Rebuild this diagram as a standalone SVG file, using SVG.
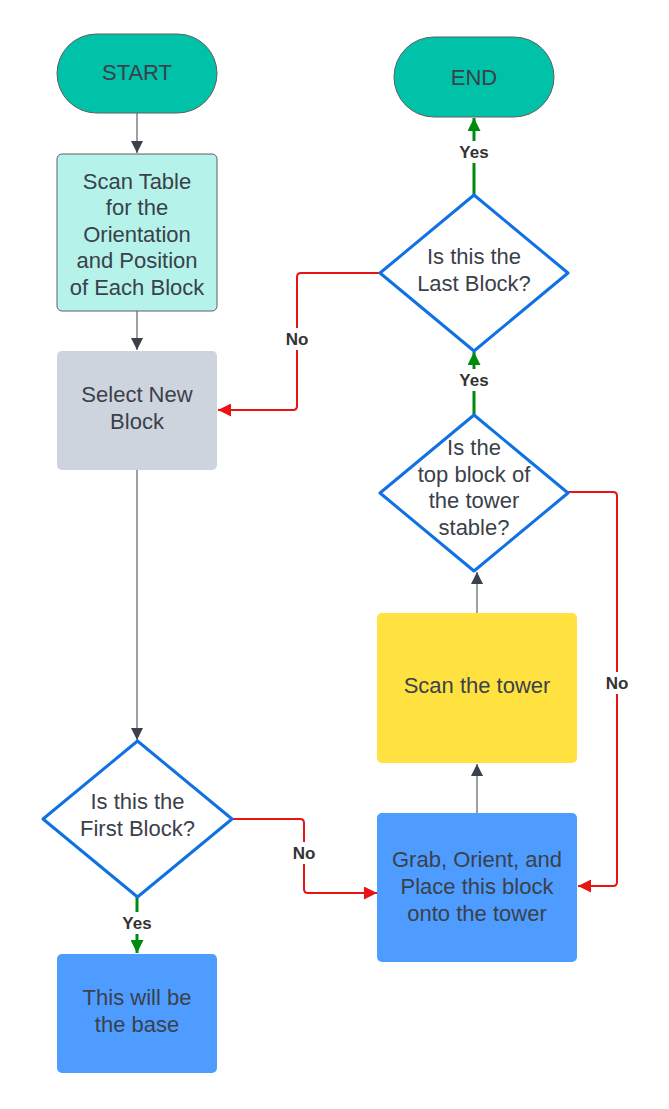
<svg xmlns="http://www.w3.org/2000/svg" width="669" height="1109" viewBox="0 0 669 1109">
<defs>
<style>
.t{font-family:"Liberation Sans",Arial,sans-serif;font-size:22px;fill:#3a414a;text-anchor:middle}
.lb{font-family:"Liberation Sans",Arial,sans-serif;font-size:17px;font-weight:bold;fill:#333333;text-anchor:middle}
.term{fill:#00c2a8;stroke:#5e5e5e;stroke-width:1}
.dia{fill:#ffffff;stroke:#1071e5;stroke-width:3;stroke-linejoin:round}
.dk{fill:none;stroke:#3a414a;stroke-width:1}
.rd{fill:none;stroke:#e81313;stroke-width:2}
.gr{fill:none;stroke:#008a0e;stroke-width:3}
.bg{fill:#ffffff}
</style>
<marker id="ad" viewBox="0 0 10 10" refX="10" refY="5" markerWidth="12" markerHeight="12" markerUnits="userSpaceOnUse" orient="auto"><path d="M0,0 L10,5 L0,10 z" fill="#3a414a"/></marker>
<marker id="ar" viewBox="0 0 10 10" refX="10" refY="5" markerWidth="13" markerHeight="13" markerUnits="userSpaceOnUse" orient="auto"><path d="M0,0 L10,5 L0,10 z" fill="#e81313"/></marker>
<marker id="ag" viewBox="0 0 10 10" refX="10" refY="5" markerWidth="13" markerHeight="13" markerUnits="userSpaceOnUse" orient="auto"><path d="M0,0 L10,5 L0,10 z" fill="#008a0e"/></marker>
</defs>
<rect width="669" height="1109" fill="#ffffff"/>

<g id="connectors">
<path class="dk" d="M137,113 V153" marker-end="url(#ad)"/>
<path class="dk" d="M137,311 V350" marker-end="url(#ad)"/>
<path class="dk" d="M137,470 V740" marker-end="url(#ad)"/>
<path class="dk" d="M477,813 V764" marker-end="url(#ad)"/>
<path class="dk" d="M477,613 V572" marker-end="url(#ad)"/>
<path class="gr" d="M137,897 V953" marker-end="url(#ag)"/>
<path class="gr" d="M474,415 V352" marker-end="url(#ag)"/>
<path class="gr" d="M474,195 V118" marker-end="url(#ag)"/>
<path class="rd" d="M232,819 H300 Q304,819 304,823 V889 Q304,893 308,893 H377" marker-end="url(#ar)"/>
<path class="rd" d="M379,273 H301 Q297,273 297,277 V406 Q297,410 293,410 H218" marker-end="url(#ar)"/>
<path class="rd" d="M568,492 H613 Q617,492 617,496 V882 Q617,886 613,886 H578" marker-end="url(#ar)"/>
<rect class="bg" x="119" y="912" width="36" height="22"/>
<text class="lb" x="137" y="929">Yes</text>
<rect class="bg" x="456" y="369" width="36" height="22"/>
<text class="lb" x="474" y="386">Yes</text>
<rect class="bg" x="456" y="141" width="36" height="22"/>
<text class="lb" x="474" y="158">Yes</text>
<rect class="bg" x="289" y="842" width="30" height="22"/>
<text class="lb" x="304" y="859">No</text>
<rect class="bg" x="282" y="328" width="30" height="22"/>
<text class="lb" x="297" y="345">No</text>
<rect class="bg" x="602" y="672" width="30" height="22"/>
<text class="lb" x="617" y="689">No</text>
</g>

<g id="start">
<rect class="term" x="57" y="34" width="160" height="79" rx="39.5"/>
<text class="t" x="137" y="80">START</text>
</g>
<g id="scan-table">
<rect x="57" y="154" width="160" height="157" rx="5" fill="#b5f3ea" stroke="#5e5e5e" stroke-width="1"/>
<text class="t" x="137" y="189">Scan Table</text>
<text class="t" x="137" y="215">for the</text>
<text class="t" x="137" y="242">Orientation</text>
<text class="t" x="137" y="268">and Position</text>
<text class="t" x="137" y="295">of Each Block</text>
</g>
<g id="select-new-block">
<rect x="57" y="351" width="160" height="119" rx="5" fill="#ced4dd"/>
<text class="t" x="137" y="402">Select New</text>
<text class="t" x="137" y="429">Block</text>
</g>
<g id="first-block">
<path class="dia" d="M137.5,741 L232,819 L137.5,897 L43,819 Z"/>
<text class="t" x="137.5" y="809">Is this the</text>
<text class="t" x="137.5" y="836">First Block?</text>
</g>
<g id="base">
<rect x="57" y="954" width="160" height="119" rx="5" fill="#4e9cff"/>
<text class="t" x="137" y="1005">This will be</text>
<text class="t" x="137" y="1032">the base</text>
</g>
<g id="grab">
<rect x="377" y="813" width="200" height="149" rx="5" fill="#4e9cff"/>
<text class="t" x="477" y="867">Grab, Orient, and</text>
<text class="t" x="477" y="894">Place this block</text>
<text class="t" x="477" y="921">onto the tower</text>
</g>
<g id="scan-tower">
<rect x="377" y="613" width="200" height="150" rx="5" fill="#ffe140"/>
<text class="t" x="477" y="693">Scan the tower</text>
</g>
<g id="stable">
<path class="dia" d="M474,415 L568,493 L474,571 L380,493 Z"/>
<text class="t" x="474" y="455">Is the</text>
<text class="t" x="474" y="482">top block of</text>
<text class="t" x="474" y="508">the tower</text>
<text class="t" x="474" y="535">stable?</text>
</g>
<g id="last-block">
<path class="dia" d="M474,195 L568,273 L474,351 L380,273 Z"/>
<text class="t" x="474" y="264">Is this the</text>
<text class="t" x="474" y="291">Last Block?</text>
</g>
<g id="end">
<rect class="term" x="394" y="37" width="160" height="80" rx="40"/>
<text class="t" x="474" y="85">END</text>
</g>
</svg>
